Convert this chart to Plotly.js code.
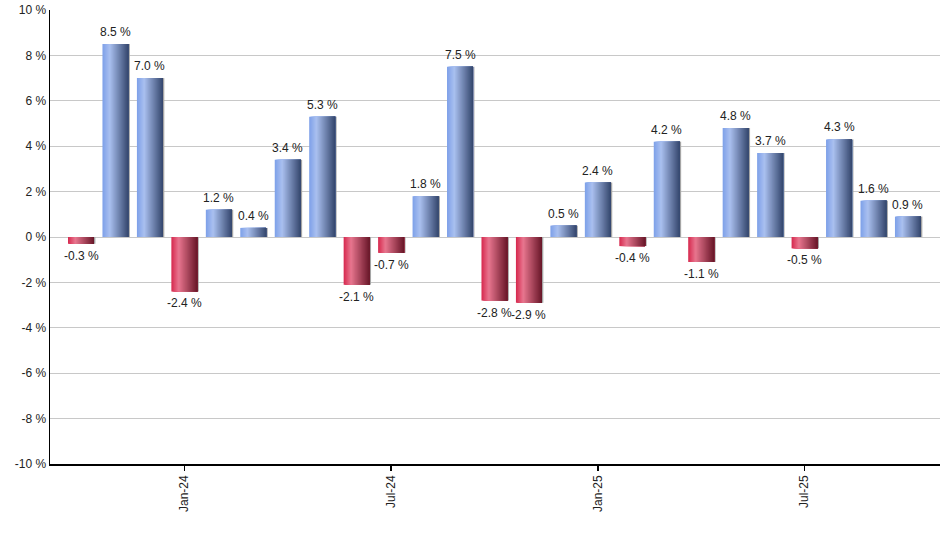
<!DOCTYPE html>
<html>
<head>
<meta charset="utf-8">
<script src="https://cdn.plot.ly/plotly-3.0.1.min.js"></script>
<style>html,body{margin:0;padding:0;background:#fff;}#chart{width:940px;height:550px;}</style>
</head>
<body>
<div id="chart"></div>
<script>
// Data
const months = ['Oct-23','Nov-23','Dec-23','Jan-24','Feb-24','Mar-24','Apr-24','May-24','Jun-24','Jul-24','Aug-24','Sep-24','Oct-24','Nov-24','Dec-24','Jan-25','Feb-25','Mar-25','Apr-25','May-25','Jun-25','Jul-25','Aug-25','Sep-25','Oct-25'];
const returns = [-0.3, 8.5, 7.0, -2.4, 1.2, 0.4, 3.4, 5.3, -2.1, -0.7, 1.8, 7.5, -2.8, -2.9, 0.5, 2.4, -0.4, 4.2, -1.1, 4.8, 3.7, -0.5, 4.3, 1.6, 0.9];
const tickLabels = ['Jan-24','Jul-24','Jan-25','Jul-25'];
const yTickVals = [-10,-8,-6,-4,-2,0,2,4,6,8,10];

// Styling helpers
const BAR_W = 0.755;
const N = 26;
const blue = [[125,160,232],[170,192,240],[52,70,108]];
const red = [[214,40,78],[232,118,143],[104,22,40]];
function mix(a,b,t){return a.map((v,i)=>Math.round(v+(b[i]-v)*t));}
function grad(c,t){
  const p = 0.28;
  const rgb = t < p ? mix(c[0],c[1],t/p) : mix(c[1],c[2],(t-p)/(1-p));
  return 'rgb('+rgb.join(',')+')';
}
const traces = [];
// thin shadow on right edge
traces.push({
  type:'bar', x:months, y:returns, width:0.05, offset:BAR_W/2 - 0.01,
  marker:{color:'rgb(165,165,165)', line:{width:0}}, hoverinfo:'skip', showlegend:false
});
for(let i=0;i<N;i++){
  const t=(i+0.5)/N;
  traces.push({
    type:'bar', x:months, y:returns,
    width: BAR_W - i*BAR_W/N,
    offset: -BAR_W/2 + i*BAR_W/N,
    marker:{color: returns.map(v=> v>=0 ? grad(blue,t) : grad(red,t)), line:{width:0}},
    hoverinfo:'skip', showlegend:false
  });
}

const annotations = months.map((m,i)=>({
  x:m, y:returns[i], xref:'x', yref:'y',
  text: returns[i].toFixed(1)+' %',
  showarrow:false,
  yanchor: returns[i]>=0 ? 'bottom' : 'top',
  yshift: returns[i]>=0 ? 3 : -3,
  font:{family:'Liberation Sans, Arial, sans-serif', size:12, color:'#222'}
}));

const layout = {
  width:940, height:550,
  margin:{l:50, r:0, t:10, b:86},
  paper_bgcolor:'#fff', plot_bgcolor:'#fff',
  barmode:'overlay',
  showlegend:false,
  annotations: annotations,
  font:{family:'Liberation Sans, Arial, sans-serif', size:12, color:'#222'},
  xaxis:{
    type:'category', range:[-0.9, 24.93],
    tickmode:'array', tickvals:tickLabels, ticktext:tickLabels,
    tickangle:-90, ticks:'outside', ticklen:5, tickcolor:'#000', tickwidth:1.5,
    showline:true, linecolor:'#000', linewidth:1.5,
    showgrid:false, zeroline:false, fixedrange:true
  },
  yaxis:{
    range:[-10,10], tickmode:'array', tickvals:yTickVals,
    ticktext: yTickVals.map(v=> String(v)+' %'),
    showline:true, linecolor:'#000', linewidth:1.5,
    showgrid:true, gridcolor:'#c8c8c8', gridwidth:1,
    zeroline:true, zerolinecolor:'#c8c8c8', zerolinewidth:1,
    ticks:'', fixedrange:true
  }
};
Plotly.newPlot('chart', traces, layout, {displayModeBar:false, staticPlot:true});
</script>
</body>
</html>
